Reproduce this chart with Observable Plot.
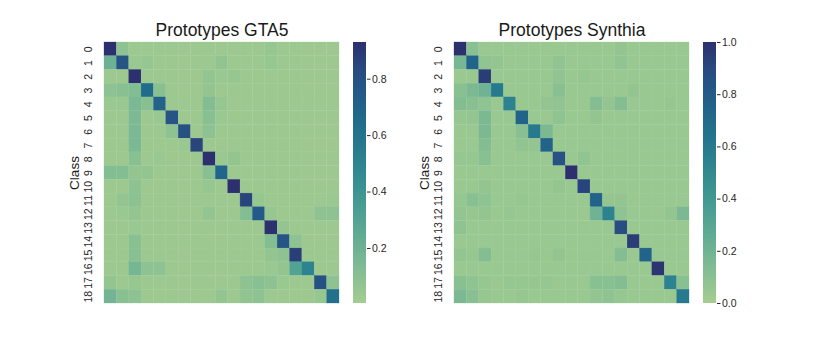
<!DOCTYPE html>
<html>
<head>
<meta charset="utf-8">
<script src="https://cdn.jsdelivr.net/npm/d3@7"></script>
<script src="https://cdn.jsdelivr.net/npm/@observablehq/plot@0.6"></script>
<style>
  html, body { margin: 0; padding: 0; background: #ffffff; }
  #chart { position: relative; width: 830px; height: 346px; overflow: hidden; font-family: "Liberation Sans", Arial, sans-serif; }
  #chart svg { position: absolute; top: 0; }
</style>
</head>
<body>
<div id="chart"></div>
<script>
// ---- data ----
const classes = d3.range(19);
const titles = ["Prototypes GTA5", "Prototypes Synthia"];
const yLabel = "Class";

const gtaValues = [
  [.93,.08,.03,.03,.03,.03,.03,.03,.03,.03,.03,.03,.03,.05,.03,.03,.03,.03,.03],
  [.20,.78,.04,.05,.03,.03,.03,.03,.03,.07,.03,.03,.03,.05,.03,.03,.03,.03,.03],
  [.03,.03,.93,.03,.03,.03,.03,.03,.06,.04,.05,.03,.03,.03,.03,.03,.03,.03,.03],
  [.08,.10,.12,.65,.10,.03,.03,.03,.06,.03,.03,.03,.03,.03,.03,.03,.03,.03,.03],
  [.04,.04,.15,.10,.70,.03,.03,.03,.12,.05,.03,.03,.03,.03,.03,.03,.03,.03,.03],
  [.03,.03,.14,.03,.04,.78,.03,.03,.10,.04,.03,.03,.03,.03,.03,.03,.03,.03,.03],
  [.03,.03,.15,.03,.03,.08,.80,.03,.08,.03,.03,.03,.03,.03,.03,.03,.03,.03,.03],
  [.03,.03,.15,.03,.03,.03,.04,.85,.03,.03,.03,.03,.03,.03,.03,.03,.03,.03,.03],
  [.03,.03,.10,.03,.04,.03,.03,.03,.93,.04,.06,.03,.03,.03,.03,.03,.03,.03,.03],
  [.12,.12,.06,.06,.03,.03,.03,.03,.10,.68,.03,.03,.03,.03,.03,.03,.03,.03,.03],
  [.03,.03,.08,.03,.03,.03,.03,.03,.05,.03,.93,.03,.03,.03,.03,.03,.03,.03,.03],
  [.03,.06,.09,.03,.03,.03,.03,.03,.03,.03,.03,.85,.05,.03,.03,.03,.03,.03,.04],
  [.03,.04,.06,.03,.03,.03,.03,.03,.06,.03,.03,.12,.75,.05,.03,.03,.03,.08,.08],
  [.03,.03,.04,.03,.03,.03,.03,.03,.03,.03,.03,.03,.03,.93,.06,.03,.03,.03,.03],
  [.03,.03,.10,.03,.03,.03,.03,.03,.03,.03,.03,.03,.03,.12,.78,.08,.03,.03,.03],
  [.03,.03,.10,.03,.03,.03,.03,.03,.03,.03,.03,.03,.03,.06,.08,.88,.03,.03,.03],
  [.03,.03,.17,.08,.08,.03,.03,.03,.03,.03,.03,.03,.03,.04,.06,.30,.50,.03,.03],
  [.06,.03,.05,.03,.03,.03,.03,.03,.03,.03,.03,.08,.10,.08,.04,.03,.03,.80,.08],
  [.18,.10,.08,.03,.03,.03,.03,.03,.03,.06,.03,.07,.08,.03,.03,.03,.03,.05,.62]
];

const synValues = [
  [1.0,.10,.04,.04,.04,.04,.04,.04,.04,.04,.04,.04,.04,.06,.04,.04,.04,.04,.04],
  [.17,.75,.07,.06,.04,.04,.04,.04,.07,.04,.04,.04,.04,.07,.04,.04,.04,.04,.04],
  [.04,.04,.95,.04,.04,.04,.04,.04,.07,.04,.05,.04,.04,.04,.04,.04,.04,.04,.04],
  [.10,.15,.20,.60,.04,.04,.04,.04,.10,.04,.04,.04,.04,.04,.06,.04,.04,.04,.04],
  [.12,.10,.08,.04,.55,.04,.04,.06,.07,.04,.04,.12,.06,.12,.04,.04,.04,.05,.04],
  [.05,.06,.15,.04,.04,.75,.04,.04,.08,.04,.04,.06,.04,.04,.04,.04,.04,.04,.04],
  [.04,.04,.15,.04,.04,.10,.60,.15,.04,.04,.04,.04,.04,.04,.04,.04,.04,.04,.04],
  [.04,.04,.12,.04,.04,.07,.06,.75,.04,.04,.04,.04,.04,.04,.04,.04,.04,.04,.04],
  [.05,.05,.10,.04,.04,.04,.04,.04,.85,.04,.07,.04,.04,.04,.04,.04,.04,.04,.04],
  [.04,.04,.04,.04,.04,.04,.04,.04,.04,1.0,.04,.04,.04,.04,.04,.04,.04,.04,.04],
  [.04,.04,.06,.04,.04,.04,.04,.04,.06,.04,.92,.04,.04,.04,.04,.04,.04,.04,.04],
  [.05,.10,.08,.04,.04,.05,.04,.04,.04,.04,.04,.75,.06,.06,.04,.04,.04,.04,.04],
  [.06,.05,.06,.04,.05,.04,.04,.04,.04,.04,.04,.20,.55,.08,.04,.04,.04,.06,.15],
  [.08,.04,.04,.04,.04,.04,.04,.04,.04,.04,.04,.04,.04,.88,.04,.04,.04,.04,.04],
  [.04,.04,.04,.04,.04,.04,.04,.04,.04,.04,.04,.04,.04,.04,.95,.04,.04,.04,.04],
  [.06,.05,.12,.04,.04,.04,.05,.04,.06,.04,.04,.04,.04,.12,.04,.75,.04,.04,.04],
  [.04,.04,.04,.04,.04,.04,.04,.04,.04,.04,.04,.04,.04,.04,.04,.04,.98,.04,.04],
  [.10,.08,.05,.04,.05,.05,.05,.05,.04,.04,.04,.10,.10,.12,.04,.04,.04,.55,.10],
  [.15,.10,.05,.04,.04,.05,.04,.04,.04,.04,.04,.06,.08,.05,.04,.04,.04,.04,.60]
];

// colorbar limits
const gtaRange = [0.005, 0.93];
const synRange = [0, 1];
const gtaTicks = [0.2, 0.4, 0.6, 0.8];
const synTicks = [0, 0.2, 0.4, 0.6, 0.8, 1.0];

// ---- styling ----
const crest = d3.interpolateRgbBasis([
  "#a5cd90", "#89c092", "#6fb394", "#57a593", "#429892", "#318990",
  "#267a8d", "#206b8b", "#225b88", "#294a80", "#2c306e"
]);
const FONT = "'Liberation Sans', Arial, sans-serif";
const W = 830, H = 346, TOP = 42, BOTTOM = 43;
const chart = document.getElementById("chart");

function toCells(m) {
  const out = [];
  m.forEach((row, r) => row.forEach((v, c) => out.push({row: r, col: c, v})));
  return out;
}

function heatmap(values, title, range, left) {
  const svg = Plot.plot({
    width: 350, height: H,
    marginLeft: 104, marginRight: 11, marginTop: TOP, marginBottom: BOTTOM,
    style: {fontFamily: FONT, background: "transparent"},
    x: {type: "band", domain: classes, padding: 0, round: false, axis: null},
    y: {type: "band", domain: classes, padding: 0, round: false, axis: null},
    color: {type: "linear", domain: range, interpolate: () => crest, clamp: true},
    marks: [
      Plot.cell(toCells(values), {x: "col", y: "row", fill: "v", inset: 0, stroke: "v", strokeWidth: 0.3}),
      Plot.text(classes, {y: d => d, text: d => String(d), frameAnchor: "left", dx: -16,
        rotate: -90, textAnchor: "middle", lineAnchor: "middle", fontSize: 10.5, fill: "#262626"}),
      Plot.text([yLabel], {text: d => d, frameAnchor: "left", dx: -30, rotate: -90,
        textAnchor: "middle", lineAnchor: "middle", fontSize: 13.5, fill: "#1a1a1a"}),
      Plot.text([title], {text: d => d, frameAnchor: "top", dy: -7, lineAnchor: "bottom",
        fontSize: 17.5, fill: "#1a1a1a"})
    ]
  });
  svg.style.left = left + "px";
  chart.appendChild(svg);
}

function colorbar(range, ticks, left) {
  const n = 240;
  const steps = d3.range(n).map(i => {
    const a = range[0] + (range[1] - range[0]) * i / n;
    const b = range[0] + (range[1] - range[0]) * (i + 1) / n;
    return {a, b, m: (a + b) / 2};
  });
  const svg = Plot.plot({
    width: 60, height: H,
    marginLeft: 13, marginRight: 34, marginTop: TOP, marginBottom: BOTTOM,
    style: {fontFamily: FONT, background: "transparent", fontSize: "10.5px", color: "#262626"},
    x: {domain: [0, 1], axis: null},
    y: {domain: range, axis: "right", ticks, tickSize: 3.5, tickPadding: 2,
        tickFormat: d3.format(".1f"), label: null},
    color: {type: "linear", domain: range, interpolate: () => crest},
    marks: [
      Plot.rect(steps, {x1: 0, x2: 1, y1: "a", y2: "b", fill: "m", inset: 0, shapeRendering: "crispEdges"})
    ]
  });
  svg.style.left = left + "px";
  chart.appendChild(svg);
}

heatmap(gtaValues, titles[0], gtaRange, 0);
colorbar(gtaRange, gtaTicks, 340);
heatmap(synValues, titles[1], synRange, 350);
colorbar(synRange, synTicks, 690);
</script>
</body>
</html>
